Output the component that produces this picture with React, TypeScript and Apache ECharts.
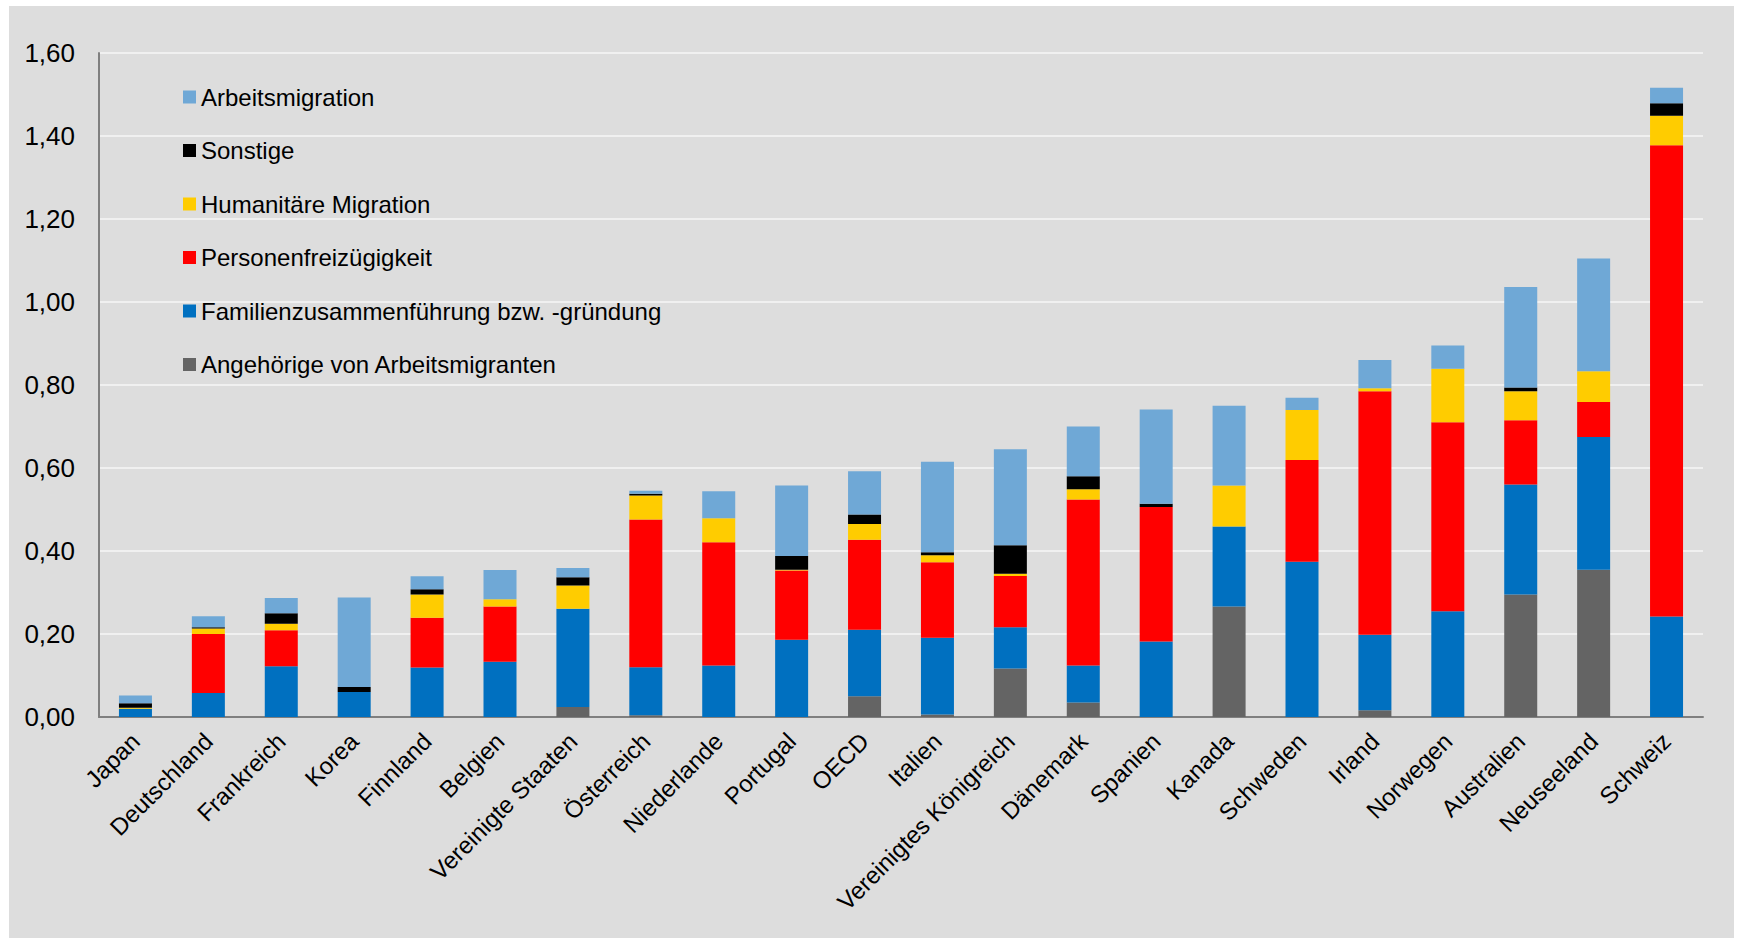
import React, { useEffect, useRef } from "react";
import * as echarts from "echarts";

const categories = [
  "Japan", "Deutschland", "Frankreich", "Korea", "Finnland", "Belgien",
  "Vereinigte Staaten", "Österreich", "Niederlande", "Portugal", "OECD",
  "Italien", "Vereinigtes Königreich", "Dänemark", "Spanien", "Kanada",
  "Schweden", "Irland", "Norwegen", "Australien", "Neuseeland", "Schweiz",
];

const angehoerige = [0, 0, 0, 0, 0, 0, 0.024, 0.004, 0, 0, 0.05, 0.006, 0.117, 0.035, 0, 0.266, 0, 0.016, 0, 0.295, 0.355, 0];
const familie = [0.02, 0.058, 0.122, 0.06, 0.119, 0.133, 0.237, 0.116, 0.124, 0.186, 0.16, 0.185, 0.099, 0.089, 0.182, 0.193, 0.374, 0.182, 0.255, 0.265, 0.32, 0.242];
const freizuegigkeit = [0, 0.142, 0.087, 0, 0.12, 0.133, 0, 0.356, 0.297, 0.167, 0.217, 0.182, 0.124, 0.4, 0.324, 0, 0.245, 0.587, 0.455, 0.155, 0.084, 1.136];
const humanitaer = [0.002, 0.013, 0.016, 0, 0.056, 0.018, 0.056, 0.058, 0.058, 0.002, 0.038, 0.017, 0.005, 0.025, 0, 0.099, 0.121, 0.007, 0.129, 0.07, 0.074, 0.071];
const sonstige = [0.011, 0.003, 0.025, 0.012, 0.013, 0, 0.02, 0.004, 0, 0.033, 0.023, 0.007, 0.069, 0.031, 0.008, 0, 0, 0, 0, 0.009, 0, 0.03];
const arbeit = [0.019, 0.027, 0.037, 0.216, 0.031, 0.07, 0.022, 0.007, 0.065, 0.17, 0.104, 0.218, 0.231, 0.12, 0.227, 0.192, 0.029, 0.068, 0.056, 0.242, 0.272, 0.037];

const seriesDefs = [
  { name: "Angehörige von Arbeitsmigranten", data: angehoerige, color: "#646464" },
  { name: "Familienzusammenführung bzw. -gründung", data: familie, color: "#0070C0" },
  { name: "Personenfreizügigkeit", data: freizuegigkeit, color: "#FF0000" },
  { name: "Humanitäre Migration", data: humanitaer, color: "#FFCC00" },
  { name: "Sonstige", data: sonstige, color: "#000000" },
  { name: "Arbeitsmigration", data: arbeit, color: "#6FA8D6" },
];

const FONT = "Arial, 'Liberation Sans', sans-serif";

export default function App() {
  const ref = useRef<HTMLDivElement>(null);
  useEffect(() => {
    if (!ref.current) return;
    const chart = echarts.init(ref.current, undefined, { renderer: "svg" });
    chart.setOption({
      animation: false,
      backgroundColor: "#DDDDDD",
      textStyle: { fontFamily: FONT },
      grid: { left: 90, right: 31, top: 47, bottom: 221, containLabel: false },
      legend: {
        orient: "vertical",
        left: 169,
        top: 74,
        icon: "rect",
        itemWidth: 13,
        itemHeight: 13,
        itemGap: 29.5,
        selectedMode: false,
        textStyle: { fontSize: 24, color: "#000", fontFamily: FONT },
        data: seriesDefs.map((s) => s.name).reverse(),
      },
      xAxis: {
        type: "category",
        data: categories,
        axisLine: { lineStyle: { color: "#7F7F7F", width: 2 } },
        axisTick: { show: false },
        axisLabel: {
          rotate: 45,
          fontSize: 24,
          color: "#000",
          margin: 20,
          interval: 0,
          fontFamily: FONT,
        },
      },
      yAxis: {
        type: "value",
        min: 0,
        max: 1.6,
        interval: 0.2,
        axisLine: { show: true, lineStyle: { color: "#7F7F7F", width: 2 } },
        axisTick: { show: false },
        splitLine: { lineStyle: { color: "#F0F0F0", width: 2 } },
        axisLabel: {
          fontSize: 26,
          color: "#000",
          margin: 24,
          fontFamily: FONT,
          formatter: (v: number) => v.toFixed(2).replace(".", ","),
        },
      },
      series: seriesDefs.map((s) => ({
        name: s.name,
        type: "bar",
        stack: "total",
        data: s.data,
        barWidth: 33,
        itemStyle: { color: s.color },
      })),
    });
    return () => chart.dispose();
  }, []);
  return (
    <div
      ref={ref}
      style={{ position: "absolute", left: 9, top: 6, width: 1725, height: 932 }}
    />
  );
}
